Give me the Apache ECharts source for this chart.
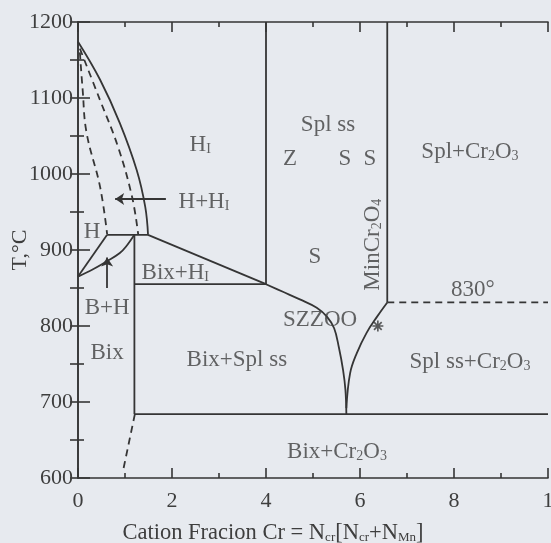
<!DOCTYPE html>
<html><head><meta charset="utf-8">
<script src="https://cdn.jsdelivr.net/npm/echarts@6/dist/echarts.min.js"></script>
<style>html,body{margin:0;padding:0;background:#e7eaef}#c{width:551px;height:543px}</style>
</head><body><div id="c"></div>
<script>
// ---- data (x = cation fraction Cr, y = T in °C) ----
const xTickLabels = ['0','2','4','6','8','1'];
const outerSolidCurve = [[0,1174],[0.047,1124],[0.089,1067],[0.125,1005],[0.143,957],[0.149,920]];
const innerDashedCurve = [[0.004,1165],[0.047,1097],[0.085,1036],[0.115,970],[0.128,921]];
const leftDashedCurve = [[0.004,1160],[0.010,1110],[0.018,1055],[0.047,983],[0.062,921]];
const line920 = [[0.062,920],[0.149,920]];
const lineHtoAxis = [[0.062,920],[0,865]];
const bhUpperCurve = [[0,865],[0.033,875],[0.061,885],[0.089,896],[0.104,906],[0.12,920]];
const vertical012 = [[0.12,920],[0.12,684]];
const slopeLine = [[0.149,920],[0.4,855]];
const bixH1Line = [[0.12,855],[0.4,855]];
const vertical040 = [[0.4,855],[0.4,1200]];
const szzooLeftCurve = [[0.4,855],[0.436,845],[0.472,835],[0.508,824],[0.53,812],[0.545,797],[0.555,772],[0.564,742],[0.569,716],[0.571,684]];
const szzooRightCurve = [[0.571,692],[0.579,738],[0.593,764],[0.614,791],[0.636,812],[0.658,831]];
const vertical066 = [[0.658,831],[0.658,1200]];
const dashed830 = [[0.658,831],[1,831]];
const line684 = [[0.12,684],[1,684]];
const dashedLow = [[0.121,684],[0.096,610]];
const arrowHH1 = [[0.187,967],[0.079,967]];
const arrowBH = [[0.062,850],[0.062,890]];
const starPoint = [[0.638,800]];
const labelTexts = ['{m|H}{s|I}','{m|H+H}{s|I}','{m|H}','{m|Bix+H}{s|I}','{m|B+H}','{m|Bix}','{m|Bix+Spl ss}','{m|Bix+Cr}{s|2}{m|O}{s|3}','{m|Spl ss+Cr}{s|2}{m|O}{s|3}','{m|830°}','{m|SZZOO}','{m|MinCr}{s|2}{m|O}{s|4}','{m|Spl ss}','{m|Z}','{m|S}','{m|S}','{m|S}','{m|Spl+Cr}{s|2}{m|O}{s|3}'];
const labelX = [0.26,0.268,0.030,0.207,0.062,0.062,0.338,0.551,0.834,0.840,0.515,0.628,0.532,0.451,0.568,0.621,0.504,0.834];
const labelT = [1038,963,924,870,824,764,755,634,753,847,808,907,1064,1020,1020,1020,891,1029];
const labelRotate = [0,0,0,0,0,0,0,0,0,0,0,90,0,0,0,0,0,0];

// ---- styles ----
const INK = '#353535';
const TXT = '#3e3e3e';
const FONT = '"Liberation Serif","DejaVu Serif",serif';
const rich = {
  m: {fontSize: 23, fontFamily: FONT, color: TXT, verticalAlign: 'top', lineHeight: 23},
  s: {fontSize: 14, fontFamily: FONT, color: TXT, verticalAlign: 'bottom', lineHeight: 14, padding: [11,0,0,0]}
};
function lineSeries(data, opts) {
  opts = opts || {};
  return {
    type: 'line', data: data, showSymbol: false, symbol: 'none', smooth: opts.smooth || false,
    lineStyle: {color: INK, width: 1.8, type: opts.dashed ? [7,5] : 'solid'},
    silent: true, z: 3
  };
}
const series = [
  lineSeries(outerSolidCurve, {smooth: 0.4}),
  lineSeries(innerDashedCurve, {smooth: 0.4, dashed: true}),
  lineSeries(leftDashedCurve, {smooth: 0.4, dashed: true}),
  lineSeries(line920),
  lineSeries(lineHtoAxis),
  lineSeries(bhUpperCurve, {smooth: 0.4}),
  lineSeries(vertical012),
  lineSeries(slopeLine),
  lineSeries(bixH1Line),
  lineSeries(vertical040),
  lineSeries(szzooLeftCurve, {smooth: 0.4}),
  lineSeries(szzooRightCurve, {smooth: 0.4}),
  lineSeries(vertical066),
  lineSeries(dashed830, {dashed: true}),
  lineSeries(line684),
  lineSeries(dashedLow, {dashed: true}),
  {
    type: 'line', data: [], silent: true,
    markLine: {
      silent: true, animation: false, symbol: ['none','arrow'], symbolSize: 9,
      label: {show: false},
      lineStyle: {color: INK, width: 1.8, type: 'solid'},
      data: [
        [{coord: arrowHH1[0]}, {coord: arrowHH1[1]}],
        [{coord: arrowBH[0]}, {coord: arrowBH[1]}]
      ]
    }
  },
  {
    type: 'scatter', data: starPoint, symbolSize: 11, silent: true,
    symbol: 'path://M8.5 0L11.5 0L11.5 20L8.5 20ZM0 8.5L20 8.5L20 11.5L0 11.5ZM2 4.1L4.1 2L18 15.9L15.9 18ZM15.9 2L18 4.1L4.1 18L2 15.9Z',
    itemStyle: {color: INK}
  },
  {
    type: 'scatter', symbolSize: 0, silent: true, z: 5,
    data: labelTexts.map((t, i) => ({value: [labelX[i], labelT[i]], label: {rotate: labelRotate[i]}, text: t})),
    label: {show: true, position: 'inside', formatter: p => p.data.text, rich: rich}
  }
];

const axisLineStyle = {color: INK, width: 1.6};
const chart = echarts.init(document.getElementById('c'), null, {renderer: 'canvas'});
chart.setOption({
  backgroundColor: '#e7eaef',
  animation: false,
  grid: {left: 78, right: 3, top: 22, bottom: 65, containLabel: false, outerBoundsMode: 'none'},
  xAxis: [
    {
      type: 'value', min: 0, max: 1, interval: 0.2, position: 'bottom',
      axisLine: {show: true, lineStyle: axisLineStyle},
      axisTick: {show: true, inside: true, length: 10, lineStyle: axisLineStyle},
      minorTick: {show: true, splitNumber: 2, length: 5, lineStyle: axisLineStyle},
      splitLine: {show: false},
      axisLabel: {fontSize: 22, fontFamily: FONT, color: TXT, margin: 12,
        formatter: v => xTickLabels[Math.round(v / 0.2)]},
      name: '{m|Cation Fracion Cr = N}{s|cr}{m|[N}{s|cr}{m|+N}{s|Mn}{m|]}',
      nameLocation: 'middle', nameGap: 44, nameMoveOverlap: false,
      nameTextStyle: {rich: {
        m: {fontSize: 22.5, fontFamily: FONT, color: TXT, verticalAlign: 'top', lineHeight: 22},
        s: {fontSize: 13, fontFamily: FONT, color: TXT, verticalAlign: 'bottom', lineHeight: 13, padding: [11,0,0,0]}
      }, padding: [0, 80, 0, 0]}
    },
    {
      type: 'value', min: 0, max: 1, interval: 0.2, position: 'top',
      axisLine: {show: true, lineStyle: axisLineStyle},
      axisTick: {show: true, inside: true, length: 10, lineStyle: axisLineStyle},
      minorTick: {show: true, splitNumber: 2, length: 5, lineStyle: axisLineStyle},
      splitLine: {show: false}, axisLabel: {show: false}
    }
  ],
  yAxis: [
    {
      type: 'value', min: 600, max: 1200, interval: 100, position: 'left',
      axisLine: {show: true, lineStyle: axisLineStyle},
      axisTick: {show: true, inside: true, length: 12, lineStyle: axisLineStyle},
      minorTick: {show: true, splitNumber: 2, length: 6, lineStyle: axisLineStyle},
      splitLine: {show: false},
      axisLabel: {fontSize: 22, fontFamily: FONT, color: TXT, margin: 5, formatter: v => String(v)},
      name: 'T,°C', nameLocation: 'middle', nameGap: 47, nameRotate: 90, nameMoveOverlap: false,
      nameTextStyle: {fontSize: 22, fontFamily: FONT, color: TXT}
    },
    {
      type: 'value', min: 600, max: 1200, interval: 50, position: 'right',
      axisLine: {show: true, lineStyle: axisLineStyle},
      axisTick: {show: true, inside: true, length: 8, lineStyle: axisLineStyle},
      splitLine: {show: false}, axisLabel: {show: false}
    }
  ],
  series: series
});
</script>
</body></html>
